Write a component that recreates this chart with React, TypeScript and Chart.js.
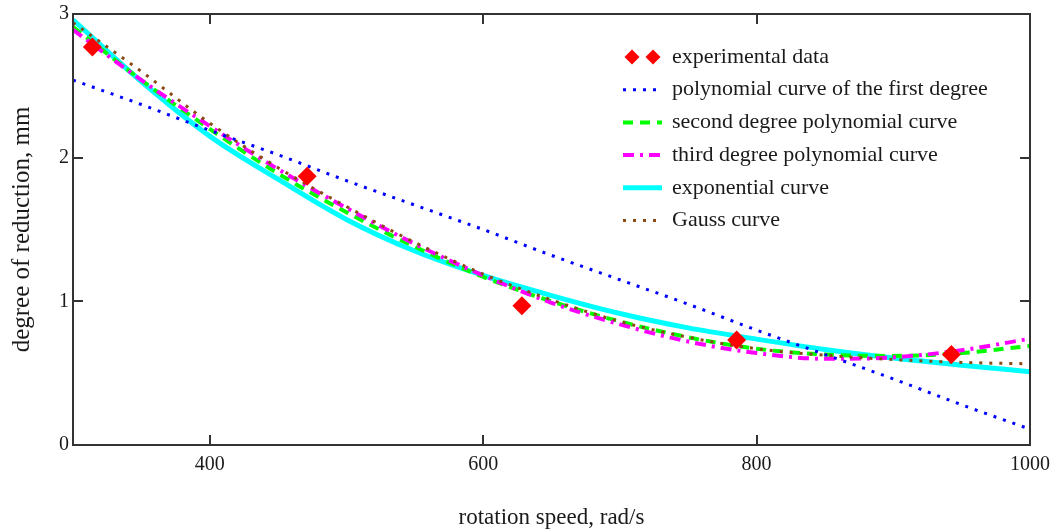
import React, { useEffect, useRef } from "react";
import { Chart, registerables } from "chart.js";

Chart.register(...registerables);

// ---- data ----
const speedExp = [314.16, 471.24, 628.32, 785.4, 942.48];
const reductionExp = [2.77, 1.87, 0.97, 0.73, 0.63];

const curveX = [300, 350, 400, 450, 500, 550, 600, 650, 700, 750, 800, 850, 900, 950, 1000];
const linearY = [2.54, 2.37, 2.19, 2.02, 1.84, 1.67, 1.5, 1.32, 1.15, 0.98, 0.8, 0.63, 0.46, 0.28, 0.11];
const quadY = [2.91, 2.54, 2.2, 1.89, 1.62, 1.38, 1.17, 1.0, 0.86, 0.75, 0.67, 0.63, 0.62, 0.64, 0.69];
const cubicY = [2.89, 2.54, 2.22, 1.92, 1.65, 1.4, 1.18, 0.99, 0.84, 0.72, 0.64, 0.6, 0.61, 0.66, 0.74];
const expY = [2.96, 2.53, 2.15, 1.85, 1.57, 1.35, 1.18, 1.04, 0.915, 0.815, 0.737, 0.665, 0.605, 0.555, 0.51];
const gaussY = [2.94, 2.6, 2.24, 1.93, 1.66, 1.41, 1.19, 1.01, 0.86, 0.75, 0.67, 0.625, 0.595, 0.575, 0.565];

const xTicks = [400, 600, 800, 1000];
const yTicks = [0, 1, 2, 3];

const seriesNames = [
  "experimental data",
  "polynomial curve of the first degree",
  "second degree polynomial curve",
  "third degree polynomial curve",
  "exponential curve",
  "Gauss curve",
];
const seriesColors = ["#ff0000", "#0000ff", "#00ff00", "#ff00ff", "#00ffff", "#8b4a14"];
const seriesDash: number[][] = [[], [3, 7], [10, 7], [11, 6, 3, 6], [], [3, 7]];
const seriesWidth = [0, 3, 4, 4, 5, 3];

const xTitle = "rotation speed, rad/s";
const yTitle = "degree of reduction, mm";

const SERIF = '"Liberation Serif", "Times New Roman", serif';
const TEXT = "#1a1a1a";

const pts = (xs: number[], ys: number[]) => xs.map((x, i) => ({ x, y: ys[i] }));

const framePlugin = {
  id: "frameTicks",
  afterDatasetsDraw(chart: any) {
    const { ctx, chartArea: a, scales } = chart;
    const len = 10;
    ctx.save();
    ctx.strokeStyle = "#333";
    ctx.lineWidth = 2;
    ctx.strokeRect(a.left, a.top, a.right - a.left, a.bottom - a.top);
    ctx.beginPath();
    xTicks.forEach((v) => {
      const px = Math.round(scales.x.getPixelForValue(v));
      if (px <= a.left + 1 || px >= a.right - 1) return;
      ctx.moveTo(px, a.bottom);
      ctx.lineTo(px, a.bottom - len);
      ctx.moveTo(px, a.top);
      ctx.lineTo(px, a.top + len);
    });
    yTicks.forEach((v) => {
      const py = Math.round(scales.y.getPixelForValue(v));
      if (py <= a.top + 1 || py >= a.bottom - 1) return;
      ctx.moveTo(a.left, py);
      ctx.lineTo(a.left + len, py);
      ctx.moveTo(a.right, py);
      ctx.lineTo(a.right - len, py);
    });
    ctx.stroke();
    ctx.restore();
  },
  afterDraw(chart: any) {
    const { ctx } = chart;
    const x0 = 623;
    const x1 = 662;
    const textX = 672;
    const y0 = 57;
    const dy = 32.7;
    ctx.save();
    seriesNames.forEach((name, i) => {
      const y = y0 + i * dy;
      if (i === 0) {
        ctx.fillStyle = seriesColors[0];
        [632, 653].forEach((cx) => {
          ctx.beginPath();
          ctx.moveTo(cx, y - 7.5);
          ctx.lineTo(cx + 7.5, y);
          ctx.lineTo(cx, y + 7.5);
          ctx.lineTo(cx - 7.5, y);
          ctx.closePath();
          ctx.fill();
        });
      } else {
        ctx.strokeStyle = seriesColors[i];
        ctx.lineWidth = seriesWidth[i];
        ctx.setLineDash(seriesDash[i]);
        ctx.beginPath();
        ctx.moveTo(x0, y);
        ctx.lineTo(x1, y);
        ctx.stroke();
        ctx.setLineDash([]);
      }
      ctx.fillStyle = TEXT;
      ctx.font = `22px ${SERIF}`;
      ctx.textBaseline = "middle";
      ctx.textAlign = "left";
      ctx.fillText(name, textX, y);
    });
    ctx.restore();
  },
};

export default function App() {
  const ref = useRef<HTMLCanvasElement>(null);
  useEffect(() => {
    const lineDs = (i: number, ys: number[], order: number) => ({
      label: seriesNames[i],
      data: pts(curveX, ys),
      borderColor: seriesColors[i],
      backgroundColor: seriesColors[i],
      borderWidth: seriesWidth[i],
      borderDash: seriesDash[i],
      pointRadius: 0,
      cubicInterpolationMode: "monotone" as const,
      fill: false,
      order,
    });
    const chart = new Chart(ref.current!, {
      type: "line",
      data: {
        datasets: [
          {
            label: seriesNames[0],
            data: pts(speedExp, reductionExp),
            showLine: false,
            pointStyle: "rectRot",
            pointRadius: 9.5,
            pointBackgroundColor: seriesColors[0],
            pointBorderColor: seriesColors[0],
            pointBorderWidth: 0,
            borderColor: seriesColors[0],
            backgroundColor: seriesColors[0],
            order: 0,
          },
          lineDs(1, linearY, 1),
          lineDs(5, gaussY, 2),
          lineDs(3, cubicY, 3),
          lineDs(2, quadY, 4),
          lineDs(4, expY, 5),
        ] as any,
      },
      options: {
        animation: false,
        responsive: true,
        maintainAspectRatio: false,
        layout: { padding: { top: 10, right: 31, left: 0, bottom: 0 } },
        plugins: { legend: { display: false }, tooltip: { enabled: false } },
        scales: {
          x: {
            type: "linear",
            min: 300,
            max: 1000,
            afterBuildTicks: (s: any) => {
              s.ticks = xTicks.map((v) => ({ value: v }));
            },
            afterFit: (s: any) => {
              s.height = 84;
            },
            grid: { display: false, drawTicks: false },
            border: { display: false },
            ticks: {
              font: { family: SERIF, size: 20, lineHeight: 1 },
              color: TEXT,
              padding: 10,
              maxRotation: 0,
              autoSkip: false,
              callback: (v: any) => String(v),
            },
            title: {
              display: true,
              text: xTitle,
              font: { family: SERIF, size: 23, lineHeight: 1 },
              color: TEXT,
              padding: { top: 0, bottom: 0 },
            },
          },
          y: {
            type: "linear",
            min: 0,
            max: 3,
            afterBuildTicks: (s: any) => {
              s.ticks = yTicks.map((v) => ({ value: v }));
            },
            afterFit: (s: any) => {
              s.width = 73;
            },
            grid: { display: false, drawTicks: false },
            border: { display: false },
            ticks: {
              font: { family: SERIF, size: 20, lineHeight: 1 },
              color: TEXT,
              padding: 4,
              autoSkip: false,
              callback: (v: any) => String(v),
            },
            title: {
              display: true,
              text: yTitle,
              font: { family: SERIF, size: 25, lineHeight: 1 },
              color: TEXT,
              padding: { top: 9.5, bottom: 0 },
            },
          },
        },
      },
      plugins: [framePlugin],
    } as any);
    return () => chart.destroy();
  }, []);
  return (
    <div style={{ position: "fixed", left: 0, top: 0, width: 1061, height: 529, background: "#fff" }}>
      <canvas ref={ref} />
    </div>
  );
}
